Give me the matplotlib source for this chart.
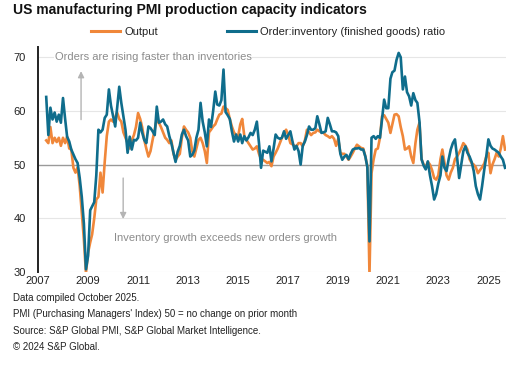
import numpy as np
import pandas as pd
import matplotlib
matplotlib.use("Agg")
import matplotlib.pyplot as plt
import matplotlib.dates as mdates
from matplotlib.lines import Line2D

plt.rcParams['font.family'] = ['Liberation Sans', 'DejaVu Sans']

# monthly data, May 2007 - Sep 2025
output = [
    54.5, 54.0, 57.0, 54.0, 55.0, 54.2, 55.0, 53.5,                           # 2007
    55.0, 54.0, 55.2, 53.0, 52.8, 49.4, 48.5, 49.5, 46.0, 41.0, 36.0, 29.8,   # 2008
    33.6, 35.5, 37.0, 40.0, 43.5, 44.0, 48.5, 44.8, 50.5, 55.3, 58.0, 58.4,   # 2009
    58.0, 58.8, 59.7, 58.5, 58.0, 56.0, 55.0, 54.0, 53.0, 54.5, 55.5, 57.0,   # 2010
    59.6, 58.5, 57.0, 54.6, 53.0, 51.5, 52.5, 54.6, 56.5, 58.4, 57.8, 57.0,   # 2011
    56.0, 55.0, 54.6, 54.0, 54.5, 52.0, 50.9, 51.5, 52.0, 55.0, 57.1, 56.5,   # 2012
    56.0, 55.0, 52.5, 51.5, 53.0, 54.6, 55.0, 54.0, 52.5, 50.3, 56.0, 56.5,   # 2013
    57.1, 57.5, 58.4, 59.3, 59.5, 60.8, 60.5, 60.2, 58.5, 57.1, 56.0, 55.5,   # 2014
    55.3, 57.5, 58.5, 55.3, 54.6, 54.0, 53.4, 52.8, 53.0, 53.4, 52.0, 51.0,   # 2015
    50.9, 50.6, 50.3, 50.5, 49.7, 51.5, 52.2, 53.0, 54.0, 55.0, 55.9, 56.5,   # 2016
    55.5, 54.0, 53.8, 53.5, 53.4, 54.0, 54.0, 53.4, 54.5, 56.5, 56.0, 55.5,   # 2017
    55.9, 56.0, 56.5, 56.2, 56.0, 55.9, 55.5, 55.3, 55.0, 55.3, 54.8, 53.5,   # 2018
    54.8, 52.2, 52.0, 52.0, 51.5, 50.9, 51.5, 52.2, 53.0, 53.7, 53.4, 53.1,   # 2019
    53.0, 51.5, 49.7, 29.5, 48.4, 51.0, 52.8, 53.0, 55.0, 59.0, 59.2, 58.5,   # 2020
    57.8, 55.9, 57.5, 59.3, 59.4, 59.0, 57.0, 55.3, 52.8, 53.0, 53.4, 51.5,   # 2021
    50.3, 54.0, 56.5, 57.8, 51.0, 50.0, 49.5, 50.5, 50.0, 49.0, 47.5, 47.2,   # 2022
    48.0, 51.0, 52.8, 50.3, 48.0, 47.2, 48.5, 49.4, 51.0, 51.5, 52.2, 53.0,   # 2023
    54.0, 53.5, 52.8, 51.0, 50.3, 50.0, 49.5, 48.4, 49.0, 49.5, 50.2, 51.5,   # 2024
    52.2, 48.4, 50.0, 51.0, 52.2, 51.5, 53.0, 55.3, 52.8,                     # 2025
]
order_inv = [
    62.6, 55.5, 60.6, 58.4, 59.7, 58.0, 59.3, 57.8,                           # 2007
    62.4, 58.5, 55.2, 54.3, 52.8, 51.9, 51.0, 50.3, 47.5, 44.0, 39.0, 30.5,   # 2008
    33.0, 41.5, 42.2, 43.0, 48.0, 56.5, 56.0, 56.5, 58.7, 59.3, 64.0, 61.0,   # 2009
    59.0, 57.1, 60.5, 64.5, 61.5, 59.0, 56.5, 52.2, 55.2, 52.8, 54.6, 54.5,   # 2010
    55.0, 57.8, 56.0, 54.6, 54.0, 57.1, 56.8, 56.2, 55.5, 60.8, 57.8, 58.0,   # 2011
    58.4, 57.5, 57.1, 55.3, 54.0, 52.2, 50.5, 52.4, 53.5, 55.6, 56.5, 55.3,   # 2012
    54.5, 51.5, 51.8, 52.6, 55.0, 56.5, 61.5, 58.0, 56.0, 53.4, 58.4, 57.0,   # 2013
    60.0, 63.6, 61.2, 61.0, 62.0, 67.7, 59.8, 59.2, 58.5, 56.2, 54.3, 55.6,   # 2014
    54.3, 55.6, 54.0, 55.3, 54.5, 55.1, 55.9, 55.5, 56.5, 58.0, 54.0, 49.4,   # 2015
    52.6, 52.4, 52.2, 53.4, 50.6, 53.0, 55.6, 55.0, 54.8, 55.0, 56.2, 54.8,   # 2016
    55.5, 56.2, 54.5, 52.8, 53.5, 52.5, 50.0, 53.5, 54.3, 55.5, 57.1, 56.5,   # 2017
    56.5, 56.8, 59.0, 57.5, 55.9, 56.0, 56.2, 58.7, 57.5, 56.2, 56.2, 56.0,   # 2018
    55.3, 52.0, 50.9, 51.5, 51.8, 51.0, 52.0, 52.8, 53.0, 53.0, 53.1, 52.8,   # 2019
    52.8, 51.5, 49.5, 35.7, 55.0, 55.3, 54.8, 55.3, 55.0, 58.4, 62.1, 60.5,   # 2020
    60.5, 66.0, 67.2, 67.5, 69.5, 70.8, 70.0, 64.0, 66.4, 63.5, 62.7, 61.0,   # 2021
    63.3, 62.0, 61.5, 58.0, 51.0, 49.8, 49.1, 50.6, 48.0, 46.0, 43.5, 44.5,   # 2022
    46.5, 48.0, 51.5, 49.4, 48.8, 51.0, 52.8, 54.0, 54.7, 51.5, 47.5, 50.0,   # 2023
    52.5, 53.4, 52.2, 51.5, 50.5, 48.8, 46.0, 44.5, 43.5, 46.0, 49.0, 51.5,   # 2024
    54.7, 53.5, 53.0, 52.8, 52.5, 52.2, 51.5, 50.9, 49.4,                     # 2025
]
dates = pd.date_range('2007-05-01', periods=len(output), freq='MS')
tick_years = list(range(2007, 2026, 2))
y_ticks = [30, 40, 50, 60, 70]

ORANGE = '#f0873a'
TEAL = '#0f6d8c'

fig = plt.figure(figsize=(5.31, 3.67), dpi=100)
ax = fig.add_axes([38 / 531, 1 - 272 / 367, (506 - 38) / 531, (272 - 47) / 367])

for y in y_ticks:
    if y != 50:
        ax.axhline(y, color='#e6e6e6', lw=0.8, zorder=0)
ax.axhline(50, color='#9a9a9a', lw=1.0, zorder=1)

ax.plot(dates, output, color=ORANGE, lw=1.9, zorder=2, solid_joinstyle='round')
ax.plot(dates, order_inv, color=TEAL, lw=1.9, zorder=3, solid_joinstyle='round')

ax.set_ylim(30, 71.9)
ax.set_xlim(pd.Timestamp('2007-01-01'), pd.Timestamp('2025-09-15'))
ax.set_yticks(y_ticks)
ax.set_xticks([pd.Timestamp(f'{y}-01-01') for y in tick_years])
ax.xaxis.set_major_formatter(mdates.DateFormatter('%Y'))
ax.tick_params(axis='both', length=0, labelsize=8, colors='#222222')
ax.tick_params(axis='y', pad=9)
ax.tick_params(axis='x', pad=3)
for s in ['top', 'right', 'bottom']:
    ax.spines[s].set_visible(False)
ax.spines['left'].set_color('#222222')
ax.spines['left'].set_linewidth(1.4)

# annotations
ax.text(0.036, 0.955, 'Orders are rising faster than inventories', transform=ax.transAxes,
        fontsize=8, color='#8c8c8c', va='center', ha='left',
        bbox=dict(facecolor='white', edgecolor='none', pad=0.5))
ax.text(0.163, 0.152, 'Inventory growth exceeds new orders growth', transform=ax.transAxes,
        fontsize=8, color='#8c8c8c', va='center', ha='left')
ax.annotate('', xy=(0.092, 0.905), xytext=(0.092, 0.665), xycoords='axes fraction',
            arrowprops=dict(arrowstyle='-|>', color='#b4b4b4', lw=1.0, mutation_scale=9))
ax.annotate('', xy=(0.182, 0.223), xytext=(0.182, 0.43), xycoords='axes fraction',
            arrowprops=dict(arrowstyle='-|>', color='#b4b4b4', lw=1.0, mutation_scale=9))

# title and legend
fig.text(13 / 531, 1 - 10 / 367, 'US manufacturing PMI production capacity indicators',
         fontsize=10, fontweight='bold', color='#111111', va='center', ha='left')
handles = [Line2D([], [], color=ORANGE, lw=2.2), Line2D([], [], color=TEAL, lw=2.2)]
fig.legend(handles, ['Output', 'Order:inventory (finished goods) ratio'],
           loc='center', bbox_to_anchor=(268 / 531, 1 - 32 / 367), ncol=2,
           frameon=False, fontsize=8, handlelength=2.6, handletextpad=0.4,
           columnspacing=6.2, labelcolor='#222222')

notes = ['Data compiled October 2025.',
         "PMI (Purchasing Managers' Index) 50 = no change on prior month",
         'Source: S&P Global PMI, S&P Global Market Intelligence.',
         '\u00a9 2024 S&P Global.']
for i, line in enumerate(notes):
    fig.text(13 / 531, 1 - (298 + 16.3 * i) / 367, line, fontsize=7, color='#222222',
             va='center', ha='left')

fig.savefig('out.png', dpi=100)
